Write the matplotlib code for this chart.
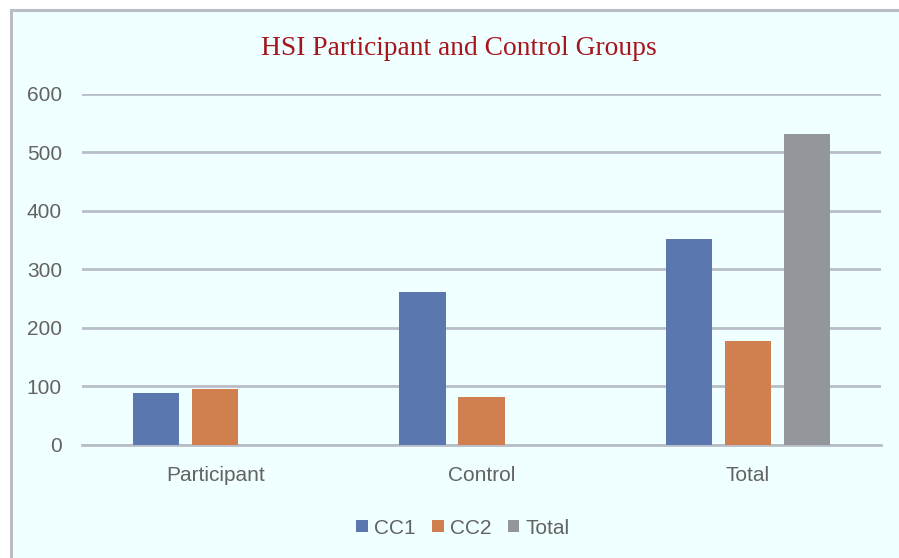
import numpy as np
import matplotlib
matplotlib.use('Agg')
import matplotlib.pyplot as plt
from matplotlib.patches import Rectangle

# DATA #
categories = ['Participant', 'Control', 'Total']
series_names = ['CC1', 'CC2', 'Total']
cc1 = [89, 262, 352]
cc2 = [95, 82, 177]
total = [np.nan, np.nan, 531]
colors = ['#5A77AF', '#D07F4E', '#93969B']
y_ticks = [0, 100, 200, 300, 400, 500, 600]

# STYLE #
bg = '#F0FFFF'
grid_col = '#B9BDC7'
text_col = '#636363'
tick_font = 'Liberation Sans'

fig = plt.figure(figsize=(8.99, 5.58), dpi=100)
fig.patch.set_facecolor('white')
# chart area with border (right / bottom edges run off the picture)
fig.patches.append(Rectangle((11 / 899, -0.05), 1.2, 1 - 10 / 558 + 0.05,
                             transform=fig.transFigure, facecolor=bg,
                             edgecolor=grid_col, linewidth=2.2, zorder=-10))

ax = fig.add_axes([82 / 899, 1 - 445 / 558, (881 - 82) / 899, (445 - 93.5) / 558])
ax.set_facecolor('none')

x = np.arange(len(categories))
width = 0.173
step = 0.2215
for i, (vals, name) in enumerate(zip([cc1, cc2, total], series_names)):
    ax.bar(x + (i - 1) * step, vals, width, color=colors[i], label=name,
           edgecolor='none', zorder=3)

ax.set_xlim(-0.5, len(categories) - 0.5)
ax.set_ylim(0, 600)
ax.set_yticks(y_ticks)
ax.set_xticks(x)
ax.set_xticklabels(categories)
ax.yaxis.grid(True, color=grid_col, linewidth=2, zorder=0)
ax.set_axisbelow(True)
for s in ['top', 'right', 'left']:
    ax.spines[s].set_visible(False)
ax.spines['bottom'].set_color(grid_col)
ax.spines['bottom'].set_linewidth(2)
ax.tick_params(axis='both', length=0, colors=text_col, labelsize=15)
ax.tick_params(axis='y', pad=14.4)
ax.tick_params(axis='x', pad=14.8)
for lab in ax.get_xticklabels() + ax.get_yticklabels():
    lab.set_fontfamily(tick_font)

fig.text(459 / 899, 1 - 48.5 / 558, 'HSI Participant and Control Groups',
         ha='center', va='center', fontsize=19.8, color='#A5161C',
         fontfamily='Liberation Serif')

handles, labels = ax.get_legend_handles_labels()
fig.legend(handles, labels, loc='center', bbox_to_anchor=(463 / 899, 1 - 528 / 558),
           ncol=3, frameon=False, handlelength=0.55, handleheight=0.55,
           handletextpad=0.3, columnspacing=0.8,
           prop={'family': tick_font, 'size': 15}, labelcolor=text_col)

fig.savefig('out.png', dpi=100, facecolor='white')
